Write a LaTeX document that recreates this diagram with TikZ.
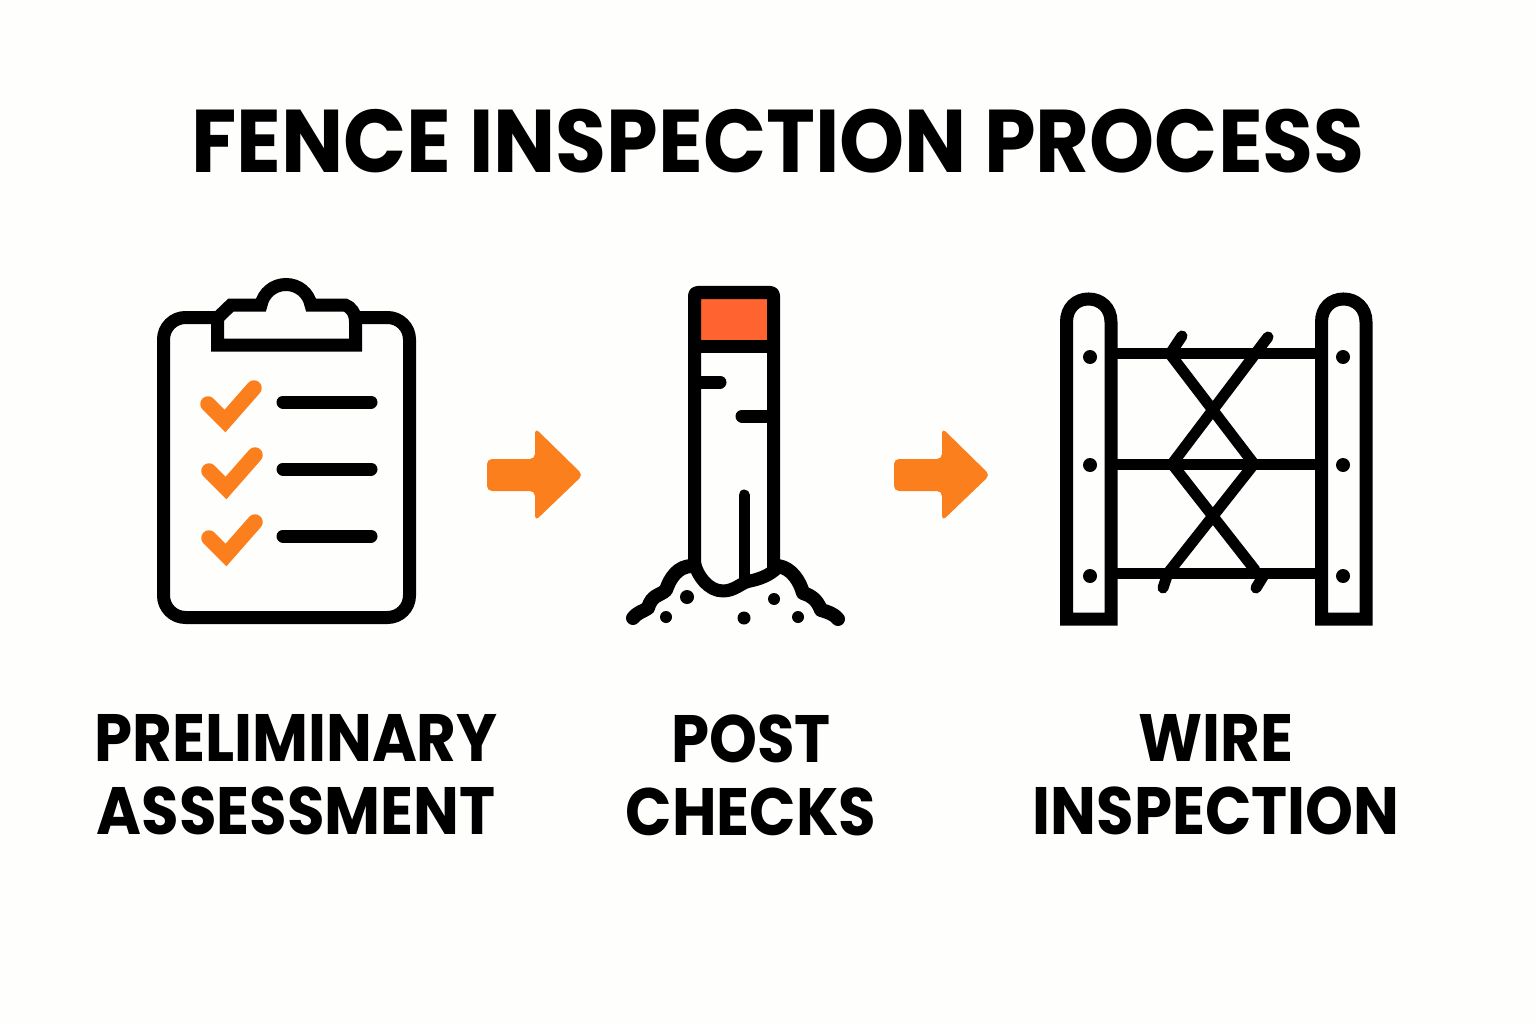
\documentclass[tikz,border=0pt]{standalone}
\usepackage{fontspec}
\setmainfont{Poppins}
\newfontfamily\titlefont[FakeStretch=0.93]{Poppins}
\newfontfamily\labelfont[FakeStretch=0.91]{Poppins}
\usepackage{tikz}
\definecolor{paper}{HTML}{FEFEFC}
\definecolor{checkorange}{HTML}{FC7F1E}
\definecolor{caporange}{HTML}{FF6430}

\begin{document}
\begin{tikzpicture}[x=1pt,y=-1pt,line join=round,
    icon line/.style={draw=black,line width=13pt},
    wire line/.style={draw=black,line width=11pt,line cap=round},
    short line/.style={draw=black,line width=13pt,line cap=round},
    check mark/.style={draw=checkorange,line width=15.5pt,line cap=round,line join=miter},
    flow arrow/.style={fill=checkorange,rounded corners=5pt},
    title node/.style={font=\titlefont\fontsize{89}{89}\selectfont\bfseries,inner sep=0pt},
    label node/.style={font=\labelfont\fontsize{67}{73}\selectfont\bfseries,align=center,inner sep=0pt}]
    \fill[paper] (0,0) rectangle (1536,1024);
    \useasboundingbox (0,0) rectangle (1536,1024);
    \node[title node] (title) at (778,141) {FENCE INSPECTION PROCESS};
    % clipboard
    \draw[icon line,rounded corners=22pt] (218,317.5) -- (163.5,317.5) -- (163.5,617.5) -- (409.5,617.5) -- (409.5,317.5) -- (355,317.5);
    \draw[icon line,line join=miter] (217.5,345) -- (217.5,318) -- (231,305) -- (261,305)
        .. controls (263.5,292.7) and (273.9,284.5) .. (286,284.5)
        .. controls (298.1,284.5) and (308.5,292.7) .. (311,305)
        -- (345,305) .. controls (351,307) and (355.5,313) .. (355.5,322) -- (355.5,345) -- cycle;
    \foreach \dx/\dy in {0/0,1/67,1/134} {
      \draw[check mark,shift={(\dx,\dy)}] (208,404) -- (225,421) -- (254,388);
    }
    \foreach \y in {402,469,536}
      \draw[short line] (283,\y) -- (371,\y);
    % arrows
    \foreach \dx in {0,407}
      \fill[flow arrow,shift={(\dx,0)}] (487,459) -- (535,459) -- (535,428) -- (583,475) -- (535,521) -- (535,491) -- (487,491) -- cycle;
    % post
    \fill[caporange] (701,299) rectangle (767,340);
    \draw[icon line] (694.5,565) -- (694.5,298) [rounded corners=3pt] -- (694.5,292.5) -- (773.5,292.5) [sharp corners] -- (773.5,571);
    \draw[icon line] (694.5,346) -- (773.5,346);
    \draw[icon line] (694.5,563) .. controls (697,575) and (708,591) .. (723,591)
        .. controls (735,591) and (742,582) .. (750,581) .. controls (760,579) and (770,575) .. (777,568);
    \draw[short line] (700,382) -- (720,382);
    \draw[short line] (742,416) -- (768,416);
    \draw[wire line] (744,495) -- (744,580);
    \draw[short line,line width=14pt] (692,566) .. controls (678,566) and (670,578) .. (666,590)
        .. controls (660,596) and (652,594) .. (648,608) .. controls (642,612) and (638,612) .. (633,618);
    \draw[short line,line width=14pt] (778,566) .. controls (792,568) and (800,582) .. (803,593)
        .. controls (812,596) and (817,600) .. (821,610) .. controls (828,612) and (834,614) .. (838,619);
    \foreach \px/\py/\r in {687/597/7,666/617/6,744/618/6.5,774/599/6,798/617/6}
      \fill (\px,\py) circle (\r pt);
    % fence
    \foreach \dx in {0,255}
      \draw[icon line,line join=miter,shift={(\dx,0)}] (1066.5,619) -- (1066.5,322)
        .. controls (1066.5,308) and (1076,299) .. (1088.5,299)
        .. controls (1101,299) and (1111,308) .. (1111,322) -- (1111,619) -- cycle;
    \foreach \y in {353,464,573}
      \draw[wire line,line cap=butt] (1112,\y) -- (1321,\y);
    \draw[wire line] (1182,336) -- (1170,354) -- (1254,464) -- (1168,573) -- (1163,588);
    \draw[wire line] (1268,337) -- (1172,464) -- (1255,570);
    \draw[wire line] (1264,575) -- (1256,588);
    \foreach \y in {357,465,576}
      \fill (1090,\y) circle (7pt) (1343,\y) circle (7pt);
    % labels
    \node[label node] (prelim) at (296,775) {PRELIMINARY\\ASSESSMENT};
    \node[label node] (post) at (751,775) {POST\\CHECKS};
    \node[label node] (wire) at (1216,775) {WIRE\\INSPECTION};
\end{tikzpicture}
\end{document}
